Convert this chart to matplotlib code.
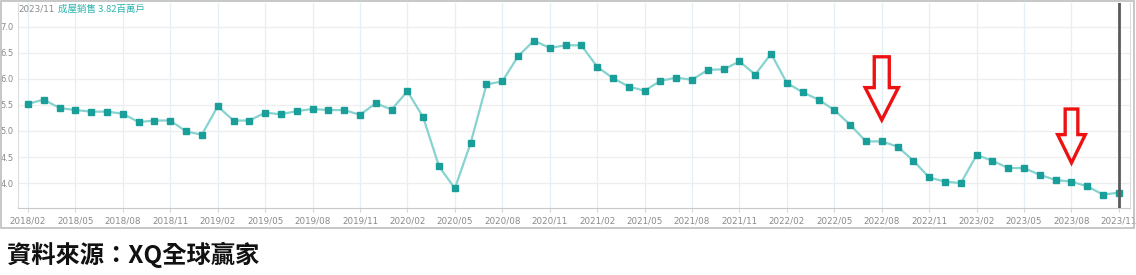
import matplotlib
matplotlib.use("Agg")
import matplotlib.pyplot as plt
from matplotlib.patches import FancyArrow, Rectangle

# monthly existing home sales (millions), 2018/02 - 2023/11
months = [f"{y}/{m:02d}" for y in range(2018, 2024) for m in range(1, 13)][1:71]
sales = [
    5.52, 5.60, 5.44, 5.40, 5.37, 5.37, 5.33, 5.17, 5.20, 5.20, 4.99,
    4.93, 5.47, 5.20, 5.20, 5.35, 5.32, 5.38, 5.42, 5.40, 5.40, 5.31, 5.53,
    5.41, 5.76, 5.26, 4.32, 3.90, 4.77, 5.89, 5.95, 6.43, 6.73, 6.59, 6.64,
    6.64, 6.23, 6.01, 5.85, 5.77, 5.96, 6.02, 5.98, 6.17, 6.18, 6.33, 6.08,
    6.48, 5.92, 5.74, 5.60, 5.40, 5.12, 4.80, 4.80, 4.70, 4.43, 4.11, 4.03,
    4.00, 4.54, 4.43, 4.29, 4.29, 4.16, 4.06, 4.03, 3.94, 3.78, 3.82,
]
yticks = [4.0, 4.5, 5.0, 5.5, 6.0, 6.5, 7.0]
arrow_months = ["2022/08", "2023/08"]

TEAL_LINE = "#86d3cf"
TEAL_MARK = "#1a9e9a"
GRAY_TXT = "#8a8a8a"
narrow = ["Liberation Sans Narrow", "DejaVu Sans"]
cjk = ["Noto Sans CJK TC", "DejaVu Sans"]

fig = plt.figure(figsize=(11.36, 2.75), dpi=100)
ax = fig.add_axes([18 / 1136, 1 - 208 / 275, 1112 / 1136, 205 / 275])

x = list(range(len(months)))
ax.plot(x, sales, color=TEAL_LINE, lw=1.6, zorder=3)
ax.plot(x, sales, ls="none", marker="s", ms=4.7, mfc=TEAL_MARK, mec=TEAL_MARK, zorder=4)

ax.set_xlim(-0.63, 69.7)
ax.set_ylim(3.525, 7.45)

tick_idx = x[::3]
ax.set_xticks(tick_idx)
ax.set_xticklabels([months[i] for i in tick_idx], fontsize=6.3, color=GRAY_TXT, family=narrow)
ax.set_yticks(yticks)
ax.set_yticklabels([f"{v:.1f}" for v in yticks], fontsize=6, color=GRAY_TXT, family=narrow)
ax.tick_params(axis="x", length=3, color="#cfd8dc", pad=3)
ax.tick_params(axis="y", length=0, pad=3)

for i in tick_idx:
    ax.axvline(i, color="#e3f1f7", lw=0.9, zorder=1)
for v in yticks:
    ax.axhline(v, color="#eeeeee", lw=0.9, zorder=1)

ax.spines["top"].set_visible(False)
ax.spines["left"].set_color("#dddddd")
ax.spines["right"].set_color("#dddddd")
ax.spines["bottom"].set_color("#c8c8c8")

# current month marker
ax.axvline(len(months) - 1, color="#5a5a5a", lw=2, zorder=5)

# red hollow arrows
arrow_specs = [(6.42, 5.21, 0.95, 2.1, 0.62), (5.42, 4.39, 0.8, 1.75, 0.54)]
for m, (top, tip, w, hw, hl) in zip(arrow_months, arrow_specs):
    xi = months.index(m)
    ax.add_patch(FancyArrow(xi, top, 0, tip - top, width=w, head_width=hw, head_length=hl,
                            length_includes_head=True, fill=False, ec="#ee1111", lw=2.4, zorder=6))

# outer frame of the screenshot
fig.patches.append(Rectangle((1 / 1136, 1 - 228 / 275), 1133 / 1136, 227 / 275,
                             transform=fig.transFigure, fill=False, ec="#bdbdbd", lw=1.2))

fig.text(18 / 1136, 1 - 9 / 275, months[-1], fontsize=6.3, color=GRAY_TXT, family=narrow, va="center")
fig.text(58 / 1136, 1 - 9 / 275, f"成屋銷售 {sales[-1]:.2f}百萬戶", fontsize=6.8, color="#2ab3ae",
         family=cjk, va="center")

fig.text(7 / 1136, 1 - 255 / 275, "資料來源：XQ全球贏家", fontsize=17.5, color="#111111",
         family=cjk, weight="bold", va="center")

fig.savefig("out.png", dpi=100, facecolor="white")
